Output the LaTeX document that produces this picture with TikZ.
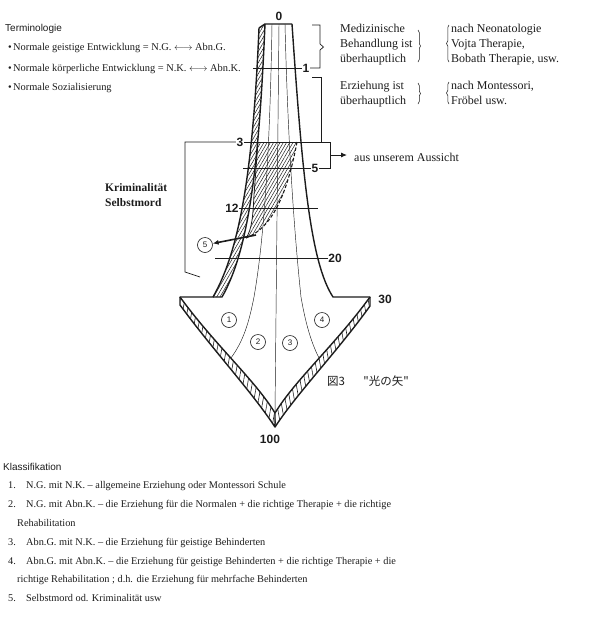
\documentclass[tikz,border=0pt]{standalone}
\usepackage{fontspec}
\setmainfont{Liberation Serif}
\setsansfont{Liberation Sans}
\newfontfamily\jpfont{Noto Sans CJK JP}
\usepackage{tikz}
\usetikzlibrary{arrows.meta,positioning,calc,patterns.meta,decorations.pathreplacing}
\definecolor{lkink}{RGB}{28,28,28}
\tikzset{
  outl/.style={draw=lkink, line width=1.4pt, line join=round},
  divl/.style={draw=lkink, line width=0.45pt},
  lvl/.style={draw=lkink, line width=0.6pt},
  devl/.style={draw=lkink, line width=1.1pt, dash pattern=on 3.5pt off 2pt},
  hatchr/.style={pattern={Lines[angle=60,distance=2.8pt,line width=0.5pt]}, pattern color=lkink},
  rungl/.style={pattern={Lines[angle=80,distance=4.5pt,line width=0.6pt]}, pattern color=lkink},
  rungr/.style={pattern={Lines[angle=100,distance=4.5pt,line width=0.6pt]}, pattern color=lkink},
  lvlno/.style={font=\fontsize{12}{12}\selectfont\sffamily\bfseries, text=lkink, inner sep=0.5pt},
  circno/.style={circle, draw=lkink, line width=0.6pt, minimum size=15pt, inner sep=0pt,
    font=\fontsize{8}{8}\selectfont\sffamily, text=lkink},
  brk/.style={draw=lkink, line width=0.7pt},
  arr/.style={-{Latex[length=6pt,width=5pt]}, draw=lkink},
  term/.style={font=\fontsize{10.4}{12}\selectfont, text=lkink, anchor=base west, inner sep=0pt},
  head/.style={font=\fontsize{10}{12}\selectfont\sffamily, text=lkink, anchor=base west, inner sep=0pt},
  note/.style={font=\fontsize{12}{15}\selectfont, text=lkink, align=left, anchor=north west, inner sep=0pt},
  cls/.style={font=\fontsize{10.3}{12}\selectfont, text=lkink, anchor=base west, inner sep=0pt},
  tbrace/.style={draw=lkink, line width=0.5pt, decorate, decoration={brace, amplitude=2.5pt}}
}

\begin{document}
\begin{tikzpicture}[x=1pt,y=-1pt]
  \useasboundingbox (0,0) rectangle (606,622);

  % hatched parts of the arrow
  \fill[hatchr] (258,142) -- (297,142) .. controls (287,195) and (272,228) .. (246,238)
    .. controls (252,230) and (253,215) .. (254,195) -- cycle;
  \fill[hatchr] (259,28) -- (265,24) .. controls (259,165) and (249,250) .. (222,297)
    -- (213,297) .. controls (240,250) and (253,170) .. (259,28) -- cycle;
  \fill[rungl] (180,297) .. controls (215,345) and (255,380) .. (275,413) -- (275,427)
    .. controls (252,392) and (213,350) .. (180,305) -- cycle;
  \fill[rungr] (370,297) .. controls (335,345) and (295,380) .. (275,413) -- (275,427)
    .. controls (298,392) and (337,352) .. (370,306) -- cycle;

  % dividing lines
  \draw[divl] (272,24) .. controls (270,150) and (264,240) .. (254,297)
    .. controls (249,322) and (244,340) .. (231,358);
  \draw[divl] (279,24) -- (275,413);
  \draw[divl] (285,24) .. controls (288,150) and (295,240) .. (301,297)
    .. controls (305,320) and (310,340) .. (319,358);

  % outline
  \draw[outl] (259,28) -- (265,24) -- (292,24);
  \draw[outl] (259,28) .. controls (253,170) and (240,250) .. (213,297) -- (180,297) -- (180,305);
  \draw[outl] (265,24) .. controls (259,165) and (249,250) .. (222,297) -- (213,297);
  \draw[outl] (292,24) .. controls (302,170) and (310,262) .. (333,297) -- (370,297) -- (370,306);
  \draw[outl] (180,297) .. controls (215,345) and (255,380) .. (275,413);
  \draw[outl] (180,305) .. controls (213,350) and (252,392) .. (275,427) -- (275,413);
  \draw[outl] (370,297) .. controls (335,345) and (295,380) .. (275,413);
  \draw[outl] (370,306) .. controls (337,352) and (298,392) .. (275,427);

  % deviation
  \draw[devl] (297,142) .. controls (287,195) and (272,228) .. (246,238);
  \draw[lvl, line width=0.8pt] (258,142) -- (254,195) .. controls (253,215) and (252,230) .. (246,238);

  % levels
  \node[lvlno] (l0) at (279,16) {0};
  \node[lvlno] (l1) at (306,68) {1};
  \node[lvlno] (l3) at (240,142) {3};
  \node[lvlno] (l5) at (315,168) {5};
  \node[lvlno] (l12) at (232,208) {12};
  \node[lvlno] (l20) at (335,258) {20};
  \node[lvlno] (l30) at (385,299) {30};
  \node[lvlno] (l100) at (270,439) {100};
  \coordinate (v1) at (253,68);
  \coordinate (v5) at (243,168);
  \coordinate (v12) at (318,208);
  \coordinate (v20) at (215,258);
  \coordinate (bxa) at (330,142);
  \coordinate (bxb) at (330,168);
  \coordinate (bxm) at (330,155);
  \draw[lvl] (v1) -- (l1.west);
  \draw[lvl] (l3.east) -- (bxa);
  \draw[lvl] (v5) -- (l5.west);
  \draw[lvl] (l12.east) -- (v12);
  \draw[lvl] (v20) -- (l20.west);

  % brackets
  \draw[brk] (l1.east) -- (320,68) -- (320,50) -- (323.5,47) -- (320,44) -- (320,25) -- (312,25);
  \draw[brk] (312,77) -- (321,77) -- (321,142);
  \draw[brk] (bxa) -- (bxb) -- (l5.east);
  \draw[brk] (l3.west) -- (185,142) -- (185,272) -- (200,277);

  % circled numbers
  \node[circno] (c1) at (229,320) {1};
  \node[circno] (c2) at (258,342) {2};
  \node[circno] (c3) at (290,343) {3};
  \node[circno] (c4) at (322,320) {4};
  \node[circno] (c5) at (205,245) {5};
  \coordinate (dv) at (256,235);
  \draw[arr, line width=1.6pt] (dv) -- (c5);

  % texts near the arrow
  \node[note, font=\fontsize{11.5}{15}\selectfont\bfseries] (krim) at (105,183) {Kriminalität\\Selbstmord};
  \node[note, anchor=base west] (aus) at (354,161) {aus unserem Aussicht};
  \draw[arr, line width=0.9pt, shorten >=7pt] (bxm) -- (aus.west |- bxm);
  \node[anchor=base west, inner sep=0pt, text=lkink, font=\jpfont\fontsize{11.5}{12}\selectfont] (fig)
    at (327,385) {図3\hspace{1.6em}"光の矢"};

  \node[note] (med) at (340,24) {Medizinische\\Behandlung ist\\überhauptlich};
  \node[note] (neo) at (451,24) {nach Neonatologie\\Vojta Therapie,\\Bobath Therapie, usw.};
  \node[note] (erz) at (340,81) {Erziehung ist\\überhauptlich};
  \node[note] (mon) at (451,81) {nach Montessori,\\Fröbel usw.};
  \draw[tbrace] (418,30) -- (418,62);
  \draw[tbrace] (449,62) -- (449,25);
  \draw[tbrace] (418,83) -- (418,104);
  \draw[tbrace] (449,104) -- (449,82);

  % terminology
  \node[head] (term) at (5,31) {Terminologie};
  \node[term] (t1) at (8,50) {\makebox[5pt][l]{•}Normale geistige Entwicklung = N.G. $\longleftrightarrow$ Abn.G.};
  \node[term] (t2) at (8,71) {\makebox[5pt][l]{•}Normale körperliche Entwicklung = N.K. $\longleftrightarrow$ Abn.K.};
  \node[term] (t3) at (8,90) {\makebox[5pt][l]{•}Normale Sozialisierung};

  % classification
  \node[head] (kla) at (3,470) {Klassifikation};
  \node[cls] (k1) at (8,488) {\makebox[18pt][l]{1.}N.G. mit N.K. – allgemeine Erziehung oder Montessori Schule};
  \node[cls] (k2) at (8,507) {\makebox[18pt][l]{2.}N.G. mit Abn.K. – die Erziehung für die Normalen + die richtige Therapie + die richtige};
  \node[cls] (k2b) at (17,526) {Rehabilitation};
  \node[cls] (k3) at (8,545) {\makebox[18pt][l]{3.}Abn.G. mit N.K. – die Erziehung für geistige Behinderten};
  \node[cls] (k4) at (8,564) {\makebox[18pt][l]{4.}Abn.G. mit Abn.K. – die Erziehung für geistige Behinderten + die richtige Therapie + die};
  \node[cls] (k4b) at (17,582) {richtige Rehabilitation ; d.h. die Erziehung für mehrfache Behinderten};
  \node[cls] (k5) at (8,601) {\makebox[18pt][l]{5.}Selbstmord od. Kriminalität usw};
\end{tikzpicture}
\end{document}
